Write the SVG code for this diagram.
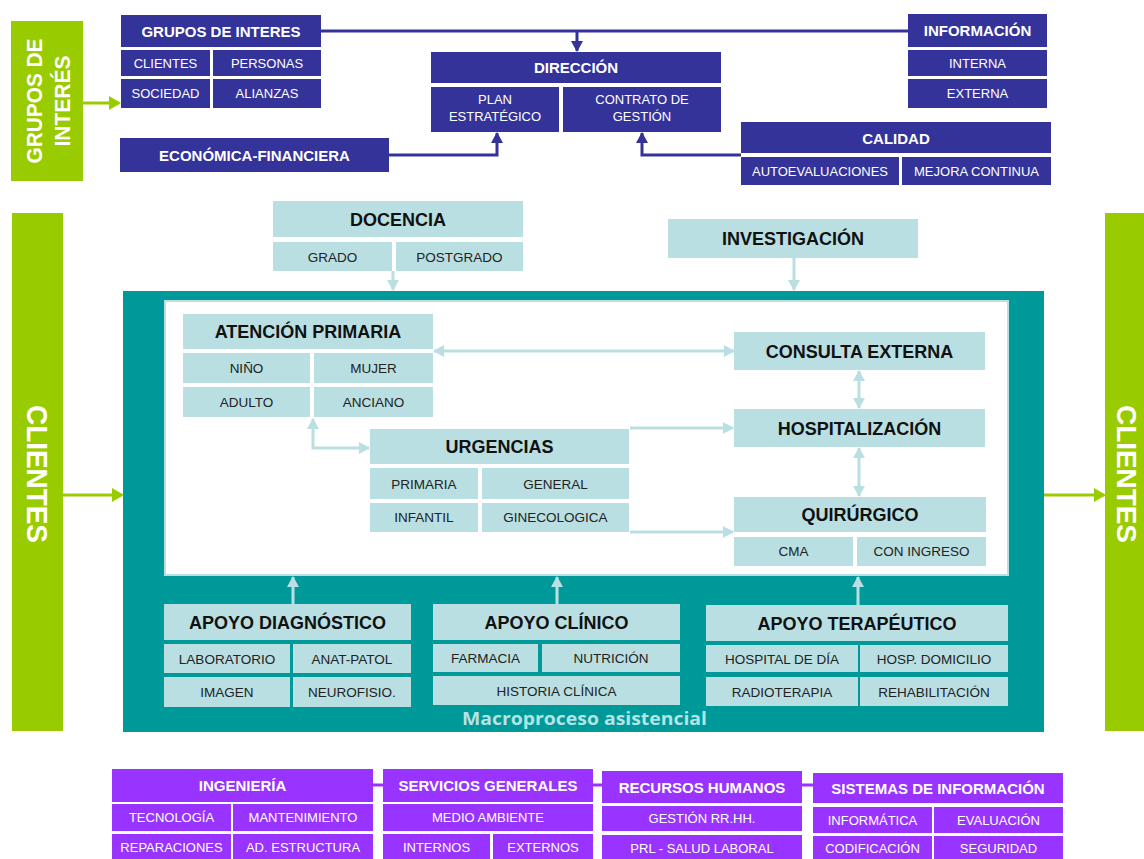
<svg xmlns="http://www.w3.org/2000/svg" width="1144" height="859" viewBox="0 0 1144 859">
<style>
.bl{fill:#333399}
.pu{fill:#9933ff}
.tc{fill:#b9dfe3}
.gr{fill:#99cc00}
text{font-family:"Liberation Sans",Arial,sans-serif;text-anchor:middle}
.hw{font-weight:bold;font-size:15px;fill:#fff}
.sw{font-size:13px;fill:#fff}
.hk{font-weight:bold;font-size:18px;fill:#111}
.sk{font-size:13.5px;fill:#222}
.big{font-weight:bold;fill:#fff}
.cb{fill:none;stroke:#333399;stroke-width:3}
.cp{fill:none;stroke:#9933ff;stroke-width:3}
.ct{fill:none;stroke:#b9dfe3;stroke-width:3}
.cg{fill:none;stroke:#99cc00;stroke-width:3}
</style>
<defs>
<marker id="ab" markerWidth="12" markerHeight="12" refX="10" refY="6" orient="auto-start-reverse" markerUnits="userSpaceOnUse"><path d="M0,0 L11,6 L0,12 z" fill="#333399"/></marker>
<marker id="at" markerWidth="12" markerHeight="12" refX="10" refY="6" orient="auto-start-reverse" markerUnits="userSpaceOnUse"><path d="M0,0 L11,6 L0,12 z" fill="#b9dfe3"/></marker>
<marker id="ag" markerWidth="12" markerHeight="14" refX="10" refY="7" orient="auto-start-reverse" markerUnits="userSpaceOnUse"><path d="M0,0 L12,7 L0,14 z" fill="#99cc00"/></marker>
</defs>
<rect width="1144" height="859" fill="#fff"/>

<g id="teal-frame">
<rect x="123" y="291" width="921" height="441" fill="#009999"/>
<rect x="165" y="301" width="843" height="274" fill="#fff" stroke="#b9dfe3" stroke-width="2"/>
<text x="462" y="725" style="text-anchor:start;font-family:'Open Sans','Liberation Sans',sans-serif;font-weight:bold;font-size:17px;fill:#b3e3e3" textLength="245" lengthAdjust="spacingAndGlyphs">Macroproceso asistencial</text>
</g>

<g id="connectors">
<path class="cb" d="M321,31 H908"/>
<path class="cb" d="M577,31 V51" marker-end="url(#ab)"/>
<path class="cb" d="M389,155 H497 V133" marker-end="url(#ab)"/>
<path class="cb" d="M741,155 H642 V133" marker-end="url(#ab)"/>
<path class="cg" d="M83,103 H119" marker-end="url(#ag)"/>
<path class="cg" d="M63,495 H122" marker-end="url(#ag)"/>
<path class="cg" d="M1044,495 H1104" marker-end="url(#ag)"/>
<path class="ct" d="M393,271 V290" marker-end="url(#at)"/>
<path class="ct" d="M794,258 V290" marker-end="url(#at)"/>
<path class="ct" d="M313,419 V448 H369" marker-start="url(#at)" marker-end="url(#at)"/>
<path class="ct" d="M434,351 H734" marker-start="url(#at)" marker-end="url(#at)"/>
<path class="ct" d="M630,428 H733" marker-end="url(#at)"/>
<path class="ct" d="M630,532 H733" marker-end="url(#at)"/>
<path class="ct" d="M859,371 V408" marker-start="url(#at)" marker-end="url(#at)"/>
<path class="ct" d="M859,448 V496" marker-start="url(#at)" marker-end="url(#at)"/>
<path class="ct" d="M293,604 V577" marker-end="url(#at)"/>
<path class="ct" d="M557,604 V577" marker-end="url(#at)"/>
<path class="ct" d="M858,605 V577" marker-end="url(#at)"/>
<path class="cp" d="M373,785 H383 M593,785 H602 M802,785 H813"/>
</g>

<g id="grupos-interes-side">
<rect class="gr" x="11" y="21" width="72" height="160"/>
<text class="big" font-size="22" transform="translate(42,101) rotate(-90)" textLength="125" lengthAdjust="spacingAndGlyphs">GRUPOS DE</text>
<text class="big" font-size="22" transform="translate(70,101) rotate(-90)" textLength="91" lengthAdjust="spacingAndGlyphs">INTERÉS</text>
</g>

<g id="clientes-left">
<rect class="gr" x="12" y="213" width="51" height="518"/>
<text class="big" font-size="30" transform="translate(27,474) rotate(90)" textLength="138" lengthAdjust="spacingAndGlyphs">CLIENTES</text>
</g>
<g id="clientes-right">
<rect class="gr" x="1105" y="213" width="39" height="518"/>
<text class="big" font-size="28" transform="translate(1117,474) rotate(90)" textLength="138" lengthAdjust="spacingAndGlyphs">CLIENTES</text>
</g>

<g id="grupos-de-interes">
<rect class="bl" x="121" y="15" width="200" height="32"/>
<text class="hw" x="221" y="37" font-size="16">GRUPOS DE INTERES</text>
<rect class="bl" x="121" y="50" width="89" height="26"/><text class="sw" x="165.5" y="68">CLIENTES</text>
<rect class="bl" x="213" y="50" width="108" height="26"/><text class="sw" x="267" y="68">PERSONAS</text>
<rect class="bl" x="121" y="79" width="89" height="29"/><text class="sw" x="165.5" y="98">SOCIEDAD</text>
<rect class="bl" x="213" y="79" width="108" height="29"/><text class="sw" x="267" y="98">ALIANZAS</text>
</g>

<g id="direccion">
<rect class="bl" x="431" y="52" width="290" height="31"/>
<text class="hw" x="576" y="73">DIRECCIÓN</text>
<rect class="bl" x="431" y="87" width="128" height="45"/>
<text class="sw" x="495" y="104">PLAN</text><text class="sw" x="495" y="121">ESTRATÉGICO</text>
<rect class="bl" x="563" y="87" width="158" height="45"/>
<text class="sw" x="642" y="104">CONTRATO DE</text><text class="sw" x="642" y="121">GESTIÓN</text>
</g>

<g id="economica">
<rect class="bl" x="120" y="138" width="269" height="34"/>
<text class="hw" x="254.5" y="160.5">ECONÓMICA-FINANCIERA</text>
</g>

<g id="informacion">
<rect class="bl" x="908" y="14" width="139" height="33"/>
<text class="hw" x="977.5" y="36">INFORMACIÓN</text>
<rect class="bl" x="908" y="50" width="139" height="26"/><text class="sw" x="977.5" y="67.5">INTERNA</text>
<rect class="bl" x="908" y="79" width="139" height="29"/><text class="sw" x="977.5" y="98">EXTERNA</text>
</g>

<g id="calidad">
<rect class="bl" x="741" y="122" width="310" height="31"/>
<text class="hw" x="896" y="143.5">CALIDAD</text>
<rect class="bl" x="741" y="157" width="158" height="28"/><text class="sw" x="820" y="175.5">AUTOEVALUACIONES</text>
<rect class="bl" x="902" y="157" width="149" height="28"/><text class="sw" x="976.5" y="175.5">MEJORA CONTINUA</text>
</g>

<g id="docencia">
<rect class="tc" x="273" y="201" width="250" height="36"/>
<text class="hk" x="398" y="225.5">DOCENCIA</text>
<rect class="tc" x="273" y="242" width="119" height="29"/><text class="sk" x="332.5" y="261.5">GRADO</text>
<rect class="tc" x="396" y="242" width="127" height="29"/><text class="sk" x="459.5" y="261.5">POSTGRADO</text>
</g>

<g id="investigacion">
<rect class="tc" x="668" y="219" width="250" height="39"/>
<text class="hk" x="793" y="245">INVESTIGACIÓN</text>
</g>

<g id="atencion-primaria">
<rect class="tc" x="183" y="314" width="250" height="35"/>
<text class="hk" x="308" y="338">ATENCIÓN PRIMARIA</text>
<rect class="tc" x="183" y="353" width="127" height="30"/><text class="sk" x="246.5" y="373">NIÑO</text>
<rect class="tc" x="314" y="353" width="119" height="30"/><text class="sk" x="373.5" y="373">MUJER</text>
<rect class="tc" x="183" y="387" width="127" height="30"/><text class="sk" x="246.5" y="407">ADULTO</text>
<rect class="tc" x="314" y="387" width="119" height="30"/><text class="sk" x="373.5" y="407">ANCIANO</text>
</g>

<g id="urgencias">
<rect class="tc" x="370" y="429" width="259" height="35"/>
<text class="hk" x="499.5" y="453">URGENCIAS</text>
<rect class="tc" x="370" y="468" width="108" height="31"/><text class="sk" x="424" y="488.5">PRIMARIA</text>
<rect class="tc" x="482" y="468" width="147" height="31"/><text class="sk" x="555.5" y="488.5">GENERAL</text>
<rect class="tc" x="370" y="503" width="108" height="29"/><text class="sk" x="424" y="522">INFANTIL</text>
<rect class="tc" x="482" y="503" width="147" height="29"/><text class="sk" x="555.5" y="522">GINECOLOGICA</text>
</g>

<g id="consulta-externa">
<rect class="tc" x="734" y="332" width="251" height="38"/>
<text class="hk" x="859.5" y="357.5">CONSULTA EXTERNA</text>
</g>
<g id="hospitalizacion">
<rect class="tc" x="734" y="409" width="251" height="38"/>
<text class="hk" x="859.5" y="434.5">HOSPITALIZACIÓN</text>
</g>
<g id="quirurgico">
<rect class="tc" x="734" y="497" width="252" height="35"/>
<text class="hk" x="860" y="521">QUIRÚRGICO</text>
<rect class="tc" x="734" y="537" width="119" height="29"/><text class="sk" x="793.5" y="556">CMA</text>
<rect class="tc" x="857" y="537" width="129" height="29"/><text class="sk" x="921.5" y="556">CON INGRESO</text>
</g>

<g id="apoyo-diagnostico">
<rect class="tc" x="164" y="604" width="247" height="36"/>
<text class="hk" x="287.5" y="628.5">APOYO DIAGNÓSTICO</text>
<rect class="tc" x="164" y="644" width="126" height="29"/><text class="sk" x="227" y="663.5">LABORATORIO</text>
<rect class="tc" x="293" y="644" width="118" height="29"/><text class="sk" x="352" y="663.5">ANAT-PATOL</text>
<rect class="tc" x="164" y="677" width="126" height="30"/><text class="sk" x="227" y="697">IMAGEN</text>
<rect class="tc" x="293" y="677" width="118" height="30"/><text class="sk" x="352" y="697">NEUROFISIO.</text>
</g>

<g id="apoyo-clinico">
<rect class="tc" x="433" y="604" width="247" height="36"/>
<text class="hk" x="556.5" y="628.5">APOYO CLÍNICO</text>
<rect class="tc" x="433" y="644" width="105" height="28"/><text class="sk" x="485.5" y="663">FARMACIA</text>
<rect class="tc" x="542" y="644" width="138" height="28"/><text class="sk" x="611" y="663">NUTRICIÓN</text>
<rect class="tc" x="433" y="676" width="247" height="29"/><text class="sk" x="556.5" y="695.5">HISTORIA CLÍNICA</text>
</g>

<g id="apoyo-terapeutico">
<rect class="tc" x="706" y="605" width="302" height="36"/>
<text class="hk" x="857" y="629.5">APOYO TERAPÉUTICO</text>
<rect class="tc" x="706" y="645" width="152" height="27"/><text class="sk" x="782" y="663.5">HOSPITAL DE DÍA</text>
<rect class="tc" x="860" y="645" width="148" height="27"/><text class="sk" x="934" y="663.5">HOSP. DOMICILIO</text>
<rect class="tc" x="706" y="677" width="152" height="29"/><text class="sk" x="782" y="696.5">RADIOTERAPIA</text>
<rect class="tc" x="860" y="677" width="148" height="29"/><text class="sk" x="934" y="696.5">REHABILITACIÓN</text>
</g>

<g id="ingenieria">
<rect class="pu" x="112" y="769" width="261" height="33"/>
<text class="hw" x="242.5" y="791">INGENIERÍA</text>
<rect class="pu" x="112" y="804" width="119" height="27"/><text class="sw" x="171.5" y="822">TECNOLOGÍA</text>
<rect class="pu" x="233" y="804" width="140" height="27"/><text class="sw" x="303" y="822">MANTENIMIENTO</text>
<rect class="pu" x="112" y="834" width="119" height="25"/><text class="sw" x="171.5" y="852">REPARACIONES</text>
<rect class="pu" x="233" y="834" width="140" height="25"/><text class="sw" x="303" y="852">AD. ESTRUCTURA</text>
</g>

<g id="servicios-generales">
<rect class="pu" x="383" y="769" width="210" height="33"/>
<text class="hw" x="488" y="791">SERVICIOS GENERALES</text>
<rect class="pu" x="383" y="804" width="210" height="27"/><text class="sw" x="488" y="822">MEDIO AMBIENTE</text>
<rect class="pu" x="383" y="834" width="107" height="25"/><text class="sw" x="436.5" y="852">INTERNOS</text>
<rect class="pu" x="493" y="834" width="100" height="25"/><text class="sw" x="543" y="852">EXTERNOS</text>
</g>

<g id="recursos-humanos">
<rect class="pu" x="602" y="771" width="200" height="32"/>
<text class="hw" x="702" y="792.5">RECURSOS HUMANOS</text>
<rect class="pu" x="602" y="806" width="200" height="25"/><text class="sw" x="702" y="823">GESTIÓN RR.HH.</text>
<rect class="pu" x="602" y="835" width="200" height="24"/><text class="sw" x="702" y="852.5">PRL - SALUD LABORAL</text>
</g>

<g id="sistemas-informacion">
<rect class="pu" x="813" y="773" width="250" height="30"/>
<text class="hw" x="938" y="793.5">SISTEMAS DE INFORMACIÓN</text>
<rect class="pu" x="813" y="807" width="119" height="26"/><text class="sw" x="872.5" y="824.5">INFORMÁTICA</text>
<rect class="pu" x="934" y="807" width="129" height="26"/><text class="sw" x="998.5" y="824.5">EVALUACIÓN</text>
<rect class="pu" x="813" y="836" width="119" height="23"/><text class="sw" x="872.5" y="853">CODIFICACIÓN</text>
<rect class="pu" x="934" y="836" width="129" height="23"/><text class="sw" x="998.5" y="853">SEGURIDAD</text>
</g>
</svg>
